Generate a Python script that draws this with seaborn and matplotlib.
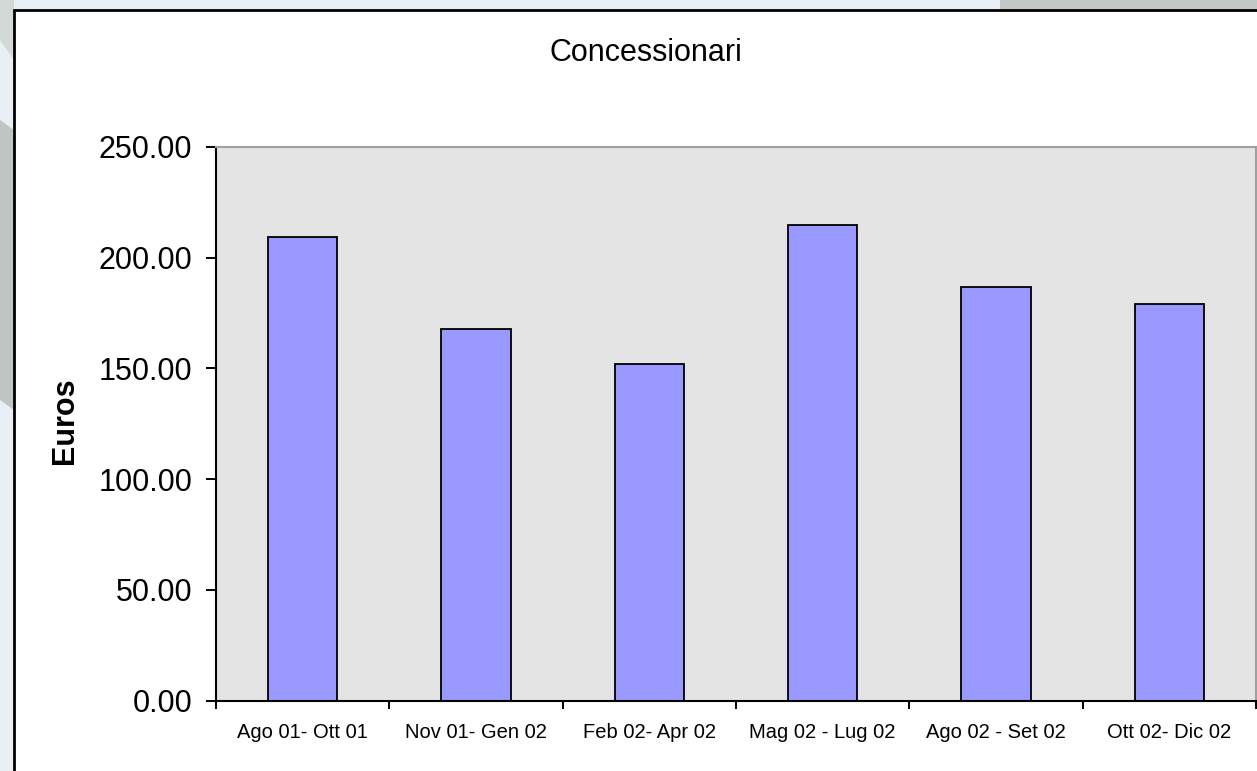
#%%
import numpy as np
import pandas as pd
import matplotlib
matplotlib.use('Agg')
import matplotlib.pyplot as plt
from matplotlib.patches import Rectangle, Polygon
from matplotlib.ticker import FixedLocator
import seaborn as sns

#%% data
periodi = ['Ago 01- Ott 01', 'Nov 01- Gen 02', 'Feb 02- Apr 02',
           'Mag 02 - Lug 02', 'Ago 02 - Set 02', 'Ott 02- Dic 02']
euros = [209.5, 168.0, 152.0, 215.0, 187.0, 179.0]
y_ticks = [0, 50, 100, 150, 200, 250]

df = pd.DataFrame({'periodo': periodi, 'euros': euros})

#%% plot
sns.set_style('white')
plt.rcParams['font.family'] = ['Liberation Sans', 'DejaVu Sans']
plt.rcParams['text.color'] = 'black'
plt.rcParams['xtick.color'] = 'black'
plt.rcParams['ytick.color'] = 'black'
plt.rcParams['axes.labelcolor'] = 'black'

fig = plt.figure(figsize=(12.57, 7.71), dpi=100, facecolor='#e8f0f6')
W, H = 1257, 771

# background decoration behind the white chart box
fig.patches.append(Polygon([(0, 1 - 120 / H), (14 / W, 1 - 130 / H), (14 / W, 1 - 410 / H), (0, 1 - 400 / H)],
                           closed=True, transform=fig.transFigure, facecolor='#bfc5c3', edgecolor='none', zorder=-3))
fig.patches.append(Polygon([(0, 1), (14 / W, 1), (14 / W, 1 - 60 / H), (0, 1 - 40 / H)],
                           closed=True, transform=fig.transFigure, facecolor='#d3d9d7', edgecolor='none', zorder=-3))
fig.patches.append(Rectangle((1000 / W, 1 - 10 / H), 257 / W, 10 / H, transform=fig.transFigure,
                             facecolor='#c2c8c6', edgecolor='none', zorder=-3))
# white chart area with black frame
fig.patches.append(Rectangle((14 / W, -0.05), 1.0, 1 - 10 / H + 0.05, transform=fig.transFigure,
                             facecolor='white', edgecolor='black', linewidth=2, zorder=-2))

ax = fig.add_axes([216 / W, 1 - 700.7 / H, 1040 / W, 553.7 / H])
ax.set_facecolor('#e4e4e4')

sns.barplot(data=df, x='periodo', y='euros', ax=ax, color='#9999ff', saturation=1,
            width=0.4, edgecolor='black', linewidth=1.3)

ax.set_xlim(-0.5, len(periodi) - 0.5)
ax.set_ylim(0, 250)
ax.set_yticks(y_ticks)
ax.set_yticklabels([f'{v:.2f}' for v in y_ticks])

# ticks between the categories, labels centred under bars
ax.xaxis.set_minor_locator(FixedLocator(np.arange(-0.5, len(periodi), 1.0)))
ax.tick_params(axis='x', which='major', length=0, pad=16, labelsize=14.5)
ax.tick_params(axis='x', which='minor', direction='out', length=6, width=1.4, color='black', bottom=True)
ax.tick_params(axis='y', direction='out', length=7, width=1.4, color='black', pad=10, labelsize=22, left=True)

ax.set_xlabel('')
ax.set_ylabel('Euros', fontsize=22, fontweight='bold')
ax.yaxis.set_label_coords(-0.131, 0.505)

for side in ['left', 'bottom']:
    ax.spines[side].set_color('black')
    ax.spines[side].set_linewidth(1.5)
for side in ['top', 'right']:
    ax.spines[side].set_color('#a0a0a0')
    ax.spines[side].set_linewidth(1.5)

fig.text(646 / W, 1 - 53 / H, 'Concessionari', ha='center', va='center', fontsize=22)

fig.savefig('out.png', dpi=100, facecolor=fig.get_facecolor())
